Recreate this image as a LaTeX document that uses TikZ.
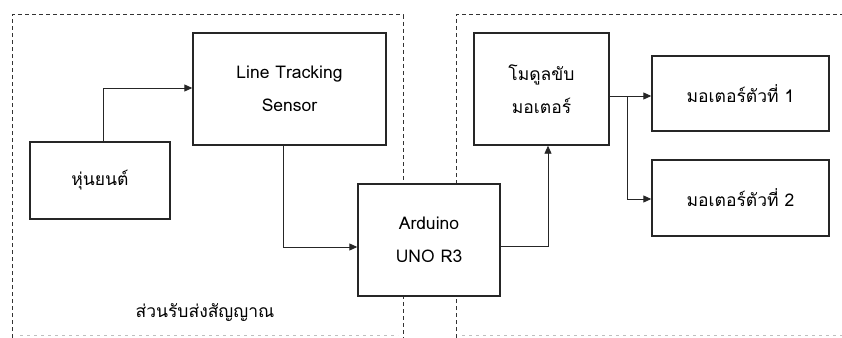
\documentclass[tikz,border=0pt]{standalone}
\usepackage{fontspec}
\newfontfamily\thaifont[Script=Thai]{Loma}
\usetikzlibrary{arrows.meta}
\begin{document}
\begin{tikzpicture}[x=1pt,y=-1pt,
  blockbox/.style={draw=black!85, fill=white, line width=1.4pt, rectangle, inner sep=0pt, align=center, font=\thaifont\fontsize{17.5}{33}\selectfont},
  conn/.style={draw=black!85, line width=0.9pt, -{Triangle[length=8pt,width=7pt]}},
  region/.style={draw=black!80, line width=1pt, dash pattern=on 4pt off 3pt},
  faintline/.style={draw=black!25, line width=0.7pt, dash pattern=on 3pt off 4pt},
  lbl/.style={font=\thaifont\fontsize{17.5}{20}\selectfont, inner sep=0pt}]
\useasboundingbox (0,0) rectangle (842,337);
\fill[white] (0,0) rectangle (842,337);
\begin{scope}
\clip (0,0) rectangle (842,337);
\draw[region] (12,345) -- (12,15) -- (403,15) -- (403,345);
\draw[region] (456,345) -- (456,15) -- (850,15);
\draw[faintline] (20,335) -- (398,335);
\draw[faintline] (462,335) -- (842,335);
\end{scope}

\node[blockbox, minimum width=193pt, minimum height=112pt] (lts) at (289.5,89) {Line Tracking\\Sensor};
\node[blockbox, minimum width=140pt, minimum height=77pt] (robot) at (100,180.5) {หุ่นยนต์};
\node[blockbox, minimum width=142pt, minimum height=112pt] (ard) at (429,240) {Arduino\\UNO R3};
\node[blockbox, minimum width=135pt, minimum height=112pt] (drv) at (541.5,89) {โมดูลขับ\\มอเตอร์};
\node[blockbox, minimum width=177pt, minimum height=75pt] (m1) at (740.5,93.5) {มอเตอร์ตัวที่ 1};
\node[blockbox, minimum width=177pt, minimum height=76pt] (m2) at (740.5,198) {มอเตอร์ตัวที่ 2};
\node[lbl] (cap) at (205,312) {ส่วนรับส่งสัญญาณ};

\coordinate (c1) at (103,88);
\coordinate (c2) at (283,247);
\coordinate (c3) at (548,246);
\coordinate (c4) at (627,96);
\coordinate (c5) at (627,199);

\draw[conn] (robot.north -| c1) -- (c1) -- (c1 -| lts.west);
\draw[conn] (lts.south -| c2) -- (c2) -- (c2 -| ard.west);
\draw[conn] (ard.east |- c3) -- (c3) -- (c3 |- drv.south);
\draw[conn] (drv.east |- c4) -- (c4 -| m1.west);
\draw[conn] (c4) -- (c5) -- (c5 -| m2.west);
\end{tikzpicture}
\end{document}
